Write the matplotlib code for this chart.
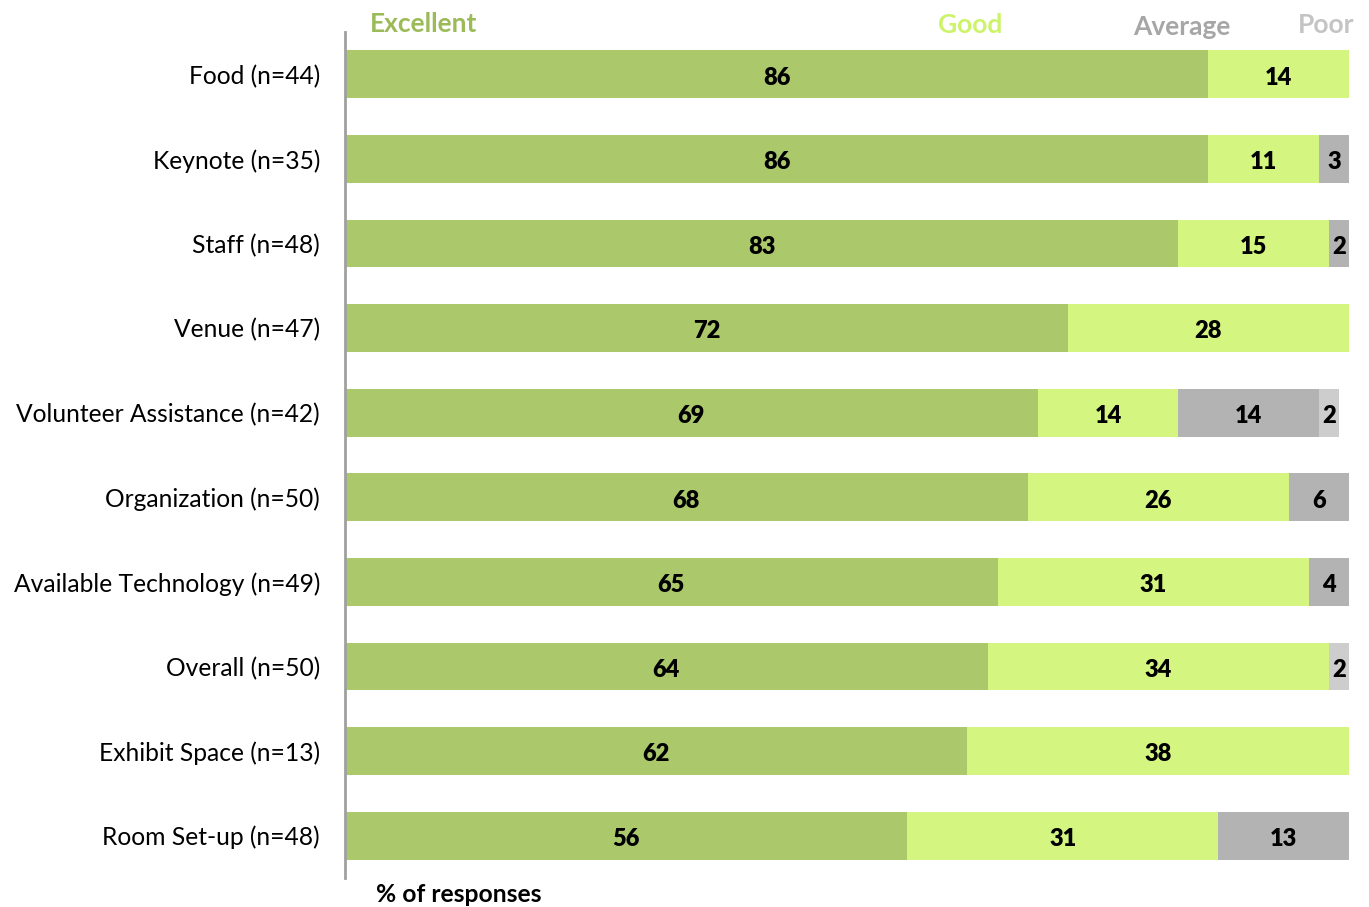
import matplotlib.pyplot as plt
import numpy as np

plt.rcParams['font.family'] = ['Lato', 'DejaVu Sans']

categories = [
    "Food (n=44)", "Keynote (n=35)", "Staff (n=48)", "Venue (n=47)",
    "Volunteer Assistance (n=42)", "Organization (n=50)",
    "Available Technology (n=49)", "Overall (n=50)",
    "Exhibit Space (n=13)", "Room Set-up (n=48)",
]
excellent = [86, 86, 83, 72, 69, 68, 65, 64, 62, 56]
good = [14, 11, 15, 28, 14, 26, 31, 34, 38, 31]
average = [0, 3, 2, 0, 14, 6, 4, 0, 0, 13]
poor = [0, 0, 0, 0, 2, 0, 0, 2, 0, 0]

series = [
    ("Excellent", excellent, "#abc86b", "#9bbb59"),
    ("Good", good, "#d4f680", "#ccf36a"),
    ("Average", average, "#b3b3b3", "#a6a6a6"),
    ("Poor", poor, "#cdcdcd", "#c4c4c4"),
]

fig = plt.figure(figsize=(13.69, 9.07), dpi=100)
ax = fig.add_axes([345 / 1369, 1 - 878 / 907, 1004 / 1369, 846 / 907])

y = np.arange(len(categories))
left = np.zeros(len(categories))
for name, vals, color, _ in series:
    vals = np.array(vals, dtype=float)
    ax.barh(y, vals, left=left, height=0.565, color=color, edgecolor="none")
    for yi, l, v in zip(y, left, vals):
        if v > 0:
            ax.text(l + v / 2, yi + 0.04, f"{int(v)}", ha="center", va="center",
                    fontsize=17, fontweight="heavy", color="black")
    left += vals

ax.set_xlim(0, 100)
ax.set_ylim(len(categories) - 0.5, -0.5)
ax.set_yticks(y)
ax.set_yticklabels(categories, fontsize=17.7)
ax.tick_params(axis="y", length=0, pad=18)
ax.set_xticks([])
for side in ["top", "right", "bottom"]:
    ax.spines[side].set_visible(False)
ax.spines["left"].set_color("#a0a0a0")
ax.spines["left"].set_linewidth(2)

# legend drawn as coloured words above the bars
legend_pos = [(370, 24, "left"), (970, 25, "center"),
              (1182, 27, "center"), (1326, 25, "center")]
for (name, _, _, tcolor), (px, py, ha) in zip(series, legend_pos):
    fig.text(px / 1369, 1 - py / 907, name, ha=ha, va="center",
             fontsize=19, fontweight="bold", color=tcolor)

fig.text(376 / 1369, 1 - 894 / 907, "% of responses", ha="left", va="center",
         fontsize=17.7, fontweight="bold", color="black")

fig.savefig("out.png", dpi=100)
